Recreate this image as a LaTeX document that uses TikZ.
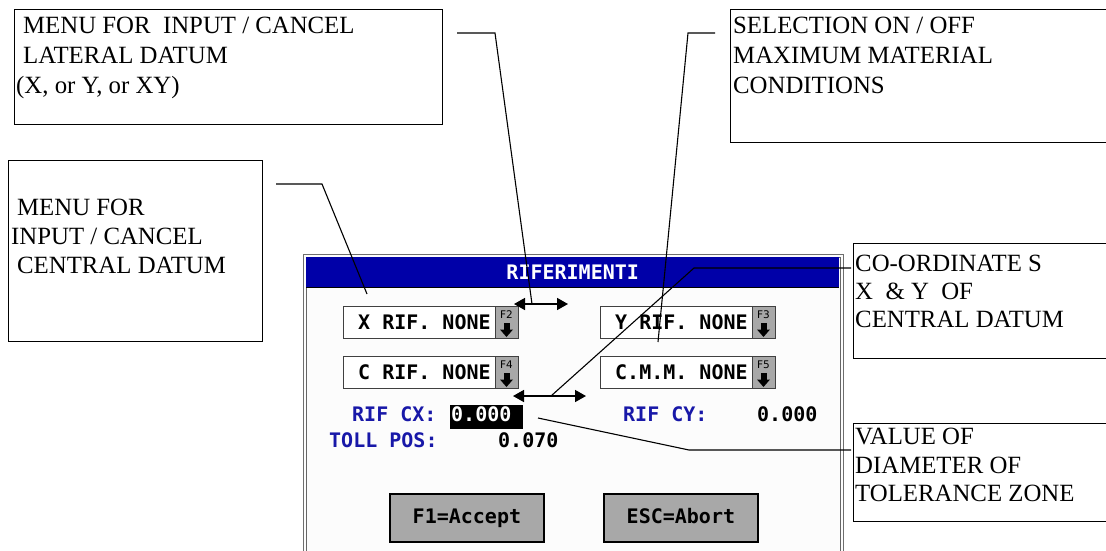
\documentclass[tikz,border=0pt]{standalone}
\usepackage{fontspec}
\setmainfont{Liberation Serif}
\newfontfamily\dlgfont{DejaVu Sans Mono}
\newfontfamily\keyfont{DejaVu Sans}
\usetikzlibrary{arrows.meta}
\definecolor{titleblue}{RGB}{0,0,168}
\definecolor{txtblue}{RGB}{24,24,168}
\definecolor{btngray}{RGB}{168,168,168}
\definecolor{framegray}{RGB}{110,110,110}
\definecolor{dlgbg}{RGB}{252,252,252}
\tikzset{
  callout/.style={draw, line width=1.3pt, inner sep=0pt, anchor=north west},
  ctext/.style={anchor=base west, inner sep=0pt, font=\fontsize{24.8}{29}\selectfont},
  leader/.style={line width=1.1pt},
  dtext/.style={anchor=base west, inner sep=0pt, font=\dlgfont\bfseries\fontsize{20}{20}\selectfont},
  fieldbox/.style={draw=black!75, fill=white, line width=1.3pt, inner sep=0pt, anchor=north west, minimum width=175pt, minimum height=32pt},
  iconbox/.style={draw=black!75, fill=btngray, line width=1pt, inner sep=0pt, anchor=north west, minimum width=23pt, minimum height=32pt},
  keylbl/.style={inner sep=0pt, font=\keyfont\fontsize{10.5}{10.5}\selectfont},
  pushbtn/.style={draw=black, fill=btngray, line width=1.8pt, inner sep=0pt, anchor=north west, minimum width=154pt, minimum height=48pt, text height=15pt, text depth=3pt, font=\dlgfont\bfseries\fontsize{20}{20}\selectfont},
  dblarrow/.style={line width=1.6pt, {Triangle[length=11pt,width=12pt]}-{Triangle[length=11pt,width=12pt]}}
}
\newcommand{\fieldbtn}[5]{%
  \node[fieldbox] (#1) at (#2,#3) {};
  \node[dtext] (#1t) at (#2+15,#3+23) {#4};
  \node[iconbox] (#1i) at (#2+152,#3) {};
  \node[keylbl] (#1k) at (#2+163.5,#3+9) {#5};
  \fill (#2+160.5,#3+17) rectangle (#2+166.5,#3+24);
  \fill (#2+157,#3+23.5) -- (#2+170,#3+23.5) -- (#2+163.5,#3+31) -- cycle;
}
\begin{document}
\begin{tikzpicture}[x=1pt,y=-1pt]
\useasboundingbox (0,0) rectangle (1106,550);
\clip (0,0) rectangle (1106,550);
\fill[white] (0,0) rectangle (1106,550);

% ---------- dialog window ----------
\node[draw=framegray, fill=dlgbg, line width=1.2pt, inner sep=0pt, anchor=north west,
      minimum width=540pt, minimum height=320pt] (dlg) at (302.5,253.5) {};
\node[draw=black!60, line width=1pt, inner sep=0pt, anchor=north west,
      minimum width=534pt, minimum height=320pt] (dlgin) at (305.5,256.5) {};
\node[fill=titleblue, inner sep=0pt, anchor=north west, minimum width=533pt, minimum height=30pt,
      text=white, font=\dlgfont\bfseries\fontsize{20}{20}\selectfont] (title) at (306,257) {RIFERIMENTI};
\draw[line width=1.2pt] (title.south west) -- (title.south east);

\fieldbtn{xrif}{343}{306}{X RIF. NONE}{F2}
\fieldbtn{crif}{343}{356}{C RIF. NONE}{F4}
\fieldbtn{yrif}{600}{306}{Y RIF. NONE}{F3}
\fieldbtn{cmm}{600}{356}{C.M.M. NONE}{F5}

\node[dtext, text=txtblue] (rifcx) at (352,421) {RIF CX:};
\node[fill=black, inner sep=0pt, anchor=north west, minimum width=73pt, minimum height=24pt] (hl) at (450,405) {};
\node[dtext, text=white] (cxval) at (451,421) {0.000};
\node[dtext, text=txtblue] (tollpos) at (329,447) {TOLL POS:};
\node[dtext] (tollval) at (498,447) {0.070};
\node[dtext, text=txtblue] (rifcy) at (623,421) {RIF CY:};
\node[dtext] (cyval) at (757,421) {0.000};

\node[pushbtn] (accept) at (389,493) {F1=Accept};
\node[pushbtn] (abort) at (603,493) {ESC=Abort};

% ---------- callout boxes ----------
\node[callout, minimum width=428pt, minimum height=115pt] (box1) at (14,9) {};
\node[ctext] (b1a) at (23,33) {MENU FOR\ \ INPUT / CANCEL};
\node[ctext] (b1b) at (23,63) {LATERAL DATUM};
\node[ctext] (b1c) at (16,93) {(X, or Y, or XY)};

\node[callout, minimum width=380pt, minimum height=133pt] (box2) at (730,9) {};
\node[ctext] (b2a) at (733,33) {SELECTION ON / OFF};
\node[ctext] (b2b) at (733,63) {MAXIMUM MATERIAL};
\node[ctext] (b2c) at (733,93) {CONDITIONS};

\node[callout, minimum width=254pt, minimum height=181pt] (box3) at (8,160) {};
\node[ctext] (b3a) at (17,215) {MENU FOR};
\node[ctext] (b3b) at (11,244) {INPUT / CANCEL};
\node[ctext] (b3c) at (17,273) {CENTRAL DATUM};

\node[callout, minimum width=260pt, minimum height=115pt] (box4) at (853,243) {};
\node[ctext] (b4a) at (855,271) {CO-ORDINATE S};
\node[ctext] (b4b) at (855,299) {X\ \ \& Y\ \ OF};
\node[ctext] (b4c) at (855,327) {CENTRAL DATUM};

\node[callout, minimum width=260pt, minimum height=98pt] (box5) at (853,423) {};
\node[ctext] (b5a) at (855,444) {VALUE OF};
\node[ctext] (b5b) at (855,473) {DIAMETER OF};
\node[ctext] (b5c) at (855,501) {TOLERANCE ZONE};

% ---------- leaders ----------
\coordinate (l1a) at (457,33);  \coordinate (l1b) at (495,33);  \coordinate (l1c) at (532,304);
\coordinate (l2a) at (715,33);  \coordinate (l2b) at (688,33);  \coordinate (l2c) at (658,342);
\coordinate (l3a) at (276,184); \coordinate (l3b) at (322,184); \coordinate (l3c) at (367,294);
\coordinate (l4a) at (851,268); \coordinate (l4b) at (694,268); \coordinate (l4c) at (551,396);
\coordinate (l5a) at (538,418); \coordinate (l5b) at (689,450); \coordinate (l5c) at (851,450);
\draw[leader] (l1a) -- (l1b) -- (l1c);
\draw[leader] (l2a) -- (l2b) -- (l2c);
\draw[leader] (l3a) -- (l3b) -- (l3c);
\draw[leader] (l4a) -- (l4b) -- (l4c);
\draw[leader] (l5a) -- (l5b) -- (l5c);

% ---------- double arrows ----------
\coordinate (a1l) at (514,304); \coordinate (a1r) at (568,304);
\coordinate (a2l) at (513,396); \coordinate (a2r) at (586,396);
\draw[dblarrow] (a1l) -- (a1r);
\draw[dblarrow] (a2l) -- (a2r);
\end{tikzpicture}
\end{document}
